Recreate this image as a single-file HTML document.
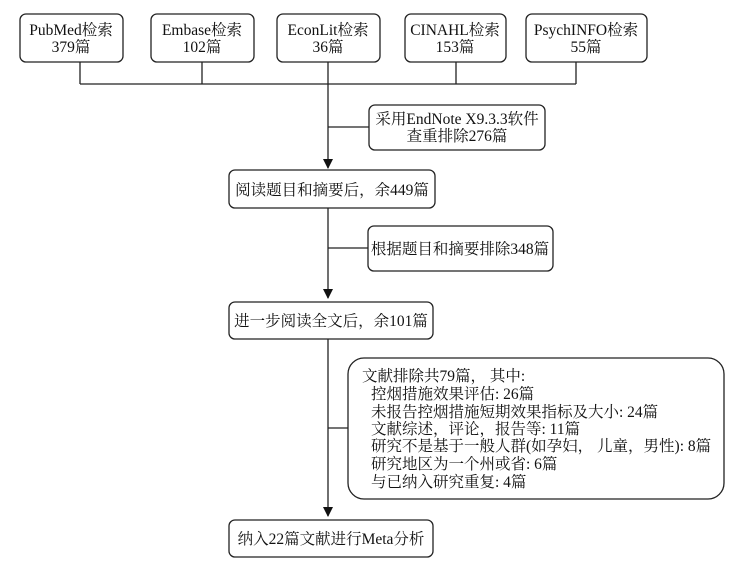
<!DOCTYPE html>
<html><head><meta charset="utf-8"><style>
body{margin:0;background:#fff}
svg text{font-family:"Liberation Serif","Noto Serif CJK SC",serif;font-size:15.5px;fill:#111}
</style></head><body>
<svg width="748" height="563" viewBox="0 0 748 563" xmlns="http://www.w3.org/2000/svg">
<defs><marker id="a" markerWidth="10" markerHeight="10" refX="9" refY="5" orient="auto" markerUnits="userSpaceOnUse"><path d="M0,0 L10,5 L0,10 z" fill="#111"/></marker></defs>
<g fill="none" stroke="#222" stroke-width="1.3">
<rect x="20" y="14" width="103" height="48" rx="6"/>
<rect x="151" y="14" width="103" height="48" rx="6"/>
<rect x="277" y="14" width="103" height="48" rx="6"/>
<rect x="405" y="14" width="101" height="48" rx="6"/>
<rect x="526" y="14" width="121" height="48" rx="6"/>
<path d="M80,62V84M202,62V84M456,62V84M576,62V84M80,84H576M328,62V84"/>
<path d="M328,84V168" marker-end="url(#a)"/>
<path d="M328,127H369"/>
<rect x="369" y="105" width="176" height="45" rx="6"/>
<rect x="229" y="170" width="206" height="38" rx="6"/>
<path d="M328,208V298" marker-end="url(#a)"/>
<path d="M328,248H368"/>
<rect x="368" y="226" width="185" height="45" rx="6"/>
<rect x="229" y="302" width="204" height="37" rx="6"/>
<path d="M328,339V516" marker-end="url(#a)"/>
<path d="M328,428H348"/>
<rect x="348" y="358" width="376" height="141" rx="16"/>
<rect x="229" y="520" width="204" height="37" rx="6"/>
</g>
<g text-anchor="middle">
<text x="71" y="35">PubMed检索</text><text x="71" y="52">379篇</text>
<text x="202" y="35">Embase检索</text><text x="202" y="52">102篇</text>
<text x="328" y="35">EconLit检索</text><text x="328" y="52">36篇</text>
<text x="455" y="35">CINAHL检索</text><text x="455" y="52">153篇</text>
<text x="586" y="35">PsychINFO检索</text><text x="586" y="52">55篇</text>
<text x="457" y="124">采用EndNote X9.3.3软件</text><text x="457" y="141">查重排除276篇</text>
<text x="332" y="195">阅读题目和摘要后，余449篇</text>
<text x="460" y="254">根据题目和摘要排除348篇</text>
<text x="331" y="326">进一步阅读全文后，余101篇</text>
<text x="331" y="544">纳入22篇文献进行Meta分析</text>
</g>
<text x="362" y="381">文献排除共79篇， 其中:</text>
<text x="371" y="399">控烟措施效果评估: 26篇</text>
<text x="371" y="417">未报告控烟措施短期效果指标及大小: 24篇</text>
<text x="371" y="434">文献综述，评论，报告等: 11篇</text>
<text x="371" y="451">研究不是基于一般人群(如孕妇， 儿童，男性): 8篇</text>
<text x="371" y="469">研究地区为一个州或省: 6篇</text>
<text x="371" y="487">与已纳入研究重复: 4篇</text>
</svg>
</body></html>
